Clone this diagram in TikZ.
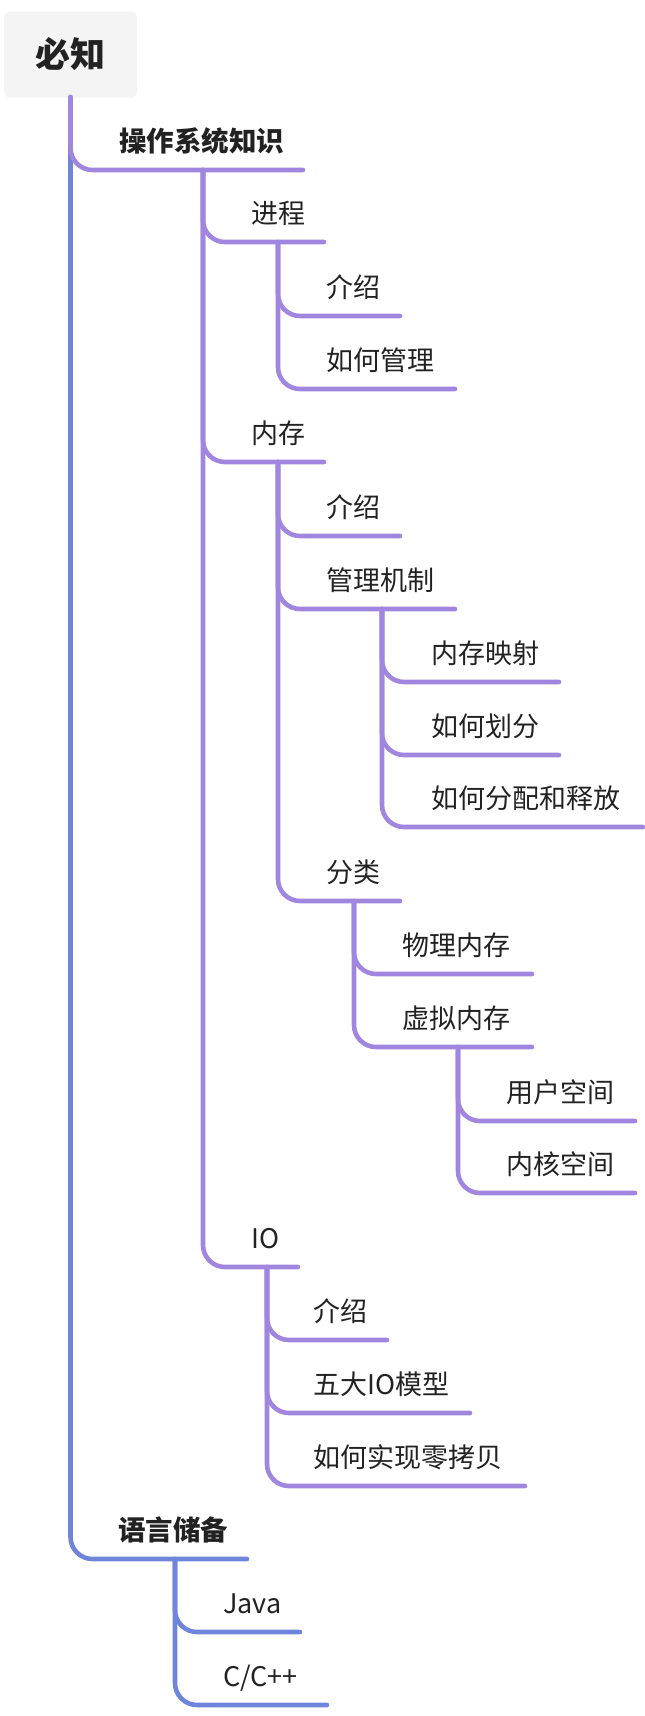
\documentclass[tikz,border=0pt]{standalone}
\usepackage{fontspec}
\newfontfamily\cjk{Noto Sans CJK SC}
\definecolor{pl}{HTML}{A186DF}
\definecolor{bl}{HTML}{6F85DB}
\definecolor{txt}{HTML}{222222}
\definecolor{boxbg}{HTML}{F4F4F4}
\tikzset{
  lbl/.style={anchor=base west, inner sep=0pt, text=txt, font=\cjk\fontsize{27}{27}\selectfont},
  blbl/.style={lbl, font=\cjk\bfseries\fontsize{27.5}{27.5}\selectfont},
  brp/.style={draw=pl, line width=4.6pt, line cap=round, rounded corners=22pt},
  brb/.style={draw=bl, line width=4.6pt, line cap=round, rounded corners=22pt},
  rootbox/.style={fill=boxbg, rounded corners=6pt, minimum width=133pt, minimum height=86pt, inner sep=0pt, text=txt, font=\cjk\bfseries\fontsize{35}{35}\selectfont}
}
\begin{document}
\begin{tikzpicture}[x=1pt,y=-1pt]
\useasboundingbox (0,0) rectangle (645,1716);
% root
\node[rootbox] (root) at (70.5,54.5) {必知};
% stems (named coordinates)
\coordinate (root-s) at (70.5,97);
% level 1
\node[blbl] (os) at (119,151) {操作系统知识};
\coordinate (os-e) at (303,170);
\coordinate (os-s) at (203,170);
\node[blbl] (yy) at (118,1540) {语言储备};
\coordinate (yy-e) at (247,1559);
\coordinate (yy-s) at (175,1559);
% level 2 under os
\node[lbl] (jc) at (251,223) {进程};
\coordinate (jc-e) at (324,242);
\coordinate (jc-s) at (278,242);
\node[lbl] (nc) at (251,443) {内存};
\coordinate (nc-e) at (324,462);
\coordinate (nc-s) at (278,462);
\node[lbl] (io) at (251,1248) {IO};
\coordinate (io-e) at (298,1267);
\coordinate (io-s) at (267,1267);
% under jc
\node[lbl] (jc1) at (326,297) {介绍};
\coordinate (jc1-e) at (400,316);
\node[lbl] (jc2) at (326,370) {如何管理};
\coordinate (jc2-e) at (455,389);
% under nc
\node[lbl] (nc1) at (326,517) {介绍};
\coordinate (nc1-e) at (400,536);
\node[lbl] (nc2) at (326,590) {管理机制};
\coordinate (nc2-e) at (455,609);
\coordinate (nc2-s) at (382,609);
\node[lbl] (fl) at (326,882) {分类};
\coordinate (fl-e) at (400,901);
\coordinate (fl-s) at (354,901);
% under nc2
\node[lbl] (gl1) at (431,663) {内存映射};
\coordinate (gl1-e) at (559,682);
\node[lbl] (gl2) at (431,736) {如何划分};
\coordinate (gl2-e) at (559,755);
\node[lbl] (gl3) at (431,808) {如何分配和释放};
\coordinate (gl3-e) at (643,827);
% under fl
\node[lbl] (wl) at (402,955) {物理内存};
\coordinate (wl-e) at (532,974);
\node[lbl] (xn) at (402,1028) {虚拟内存};
\coordinate (xn-e) at (532,1047);
\coordinate (xn-s) at (458,1047);
% under xn
\node[lbl] (yh) at (506,1102) {用户空间};
\coordinate (yh-e) at (635,1121);
\node[lbl] (nh) at (506,1174) {内核空间};
\coordinate (nh-e) at (635,1193);
% under io
\node[lbl] (io1) at (313,1321) {介绍};
\coordinate (io1-e) at (387,1340);
\node[lbl] (io2) at (313,1394) {五大IO模型};
\coordinate (io2-e) at (470,1413);
\node[lbl] (io3) at (313,1467) {如何实现零拷贝};
\coordinate (io3-e) at (525,1486);
% under yy
\node[lbl] (java) at (223,1613) {Java};
\coordinate (java-e) at (300,1632);
\node[lbl] (cpp) at (223,1686) {C/C++};
\coordinate (cpp-e) at (327,1705);
% connectors: blue branch first
\draw[brb] (root-s) |- (yy-e);
\draw[brb] (yy-s) |- (java-e);
\draw[brb] (yy-s) |- (cpp-e);
% purple branch
\draw[brp] (root-s) |- (os-e);
\draw[brp] (os-s) |- (jc-e);
\draw[brp] (os-s) |- (nc-e);
\draw[brp] (os-s) |- (io-e);
\draw[brp] (jc-s) |- (jc1-e);
\draw[brp] (jc-s) |- (jc2-e);
\draw[brp] (nc-s) |- (nc1-e);
\draw[brp] (nc-s) |- (nc2-e);
\draw[brp] (nc-s) |- (fl-e);
\draw[brp] (nc2-s) |- (gl1-e);
\draw[brp] (nc2-s) |- (gl2-e);
\draw[brp] (nc2-s) |- (gl3-e);
\draw[brp] (fl-s) |- (wl-e);
\draw[brp] (fl-s) |- (xn-e);
\draw[brp] (xn-s) |- (yh-e);
\draw[brp] (xn-s) |- (nh-e);
\draw[brp] (io-s) |- (io1-e);
\draw[brp] (io-s) |- (io2-e);
\draw[brp] (io-s) |- (io3-e);
\end{tikzpicture}
\end{document}
